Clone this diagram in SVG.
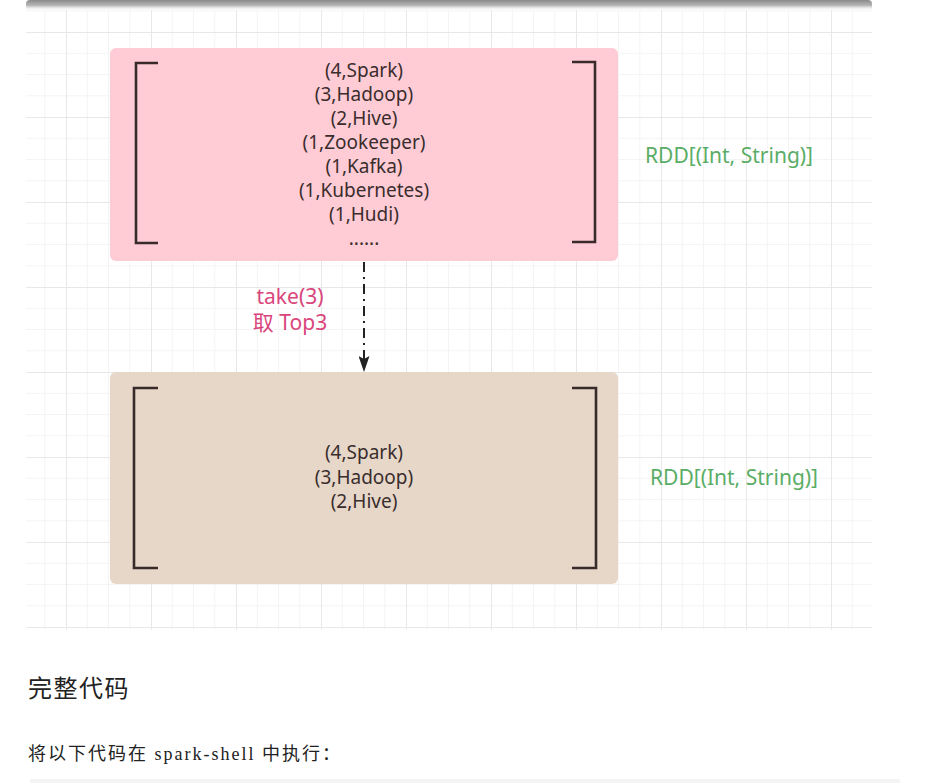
<svg xmlns="http://www.w3.org/2000/svg" width="930" height="783" viewBox="0 0 930 783">
<style>
.item{font-family:"Noto Sans","Noto Sans CJK SC",sans-serif;font-size:19px;fill:#3a2d2d;text-anchor:middle}
.rdd{font-family:"Noto Sans",sans-serif;font-size:21px;fill:#5aad66}
.lbl{font-family:"Noto Sans","Noto Sans CJK SC",sans-serif;font-size:21px;fill:#d9467c;text-anchor:middle}
.brk{fill:none;stroke:#3a2b2b;stroke-width:2.6}
.doc{font-family:"Liberation Serif","Noto Sans CJK SC",serif;fill:#222}
</style>
<defs>
<pattern id="grid" patternUnits="userSpaceOnUse" x="66" y="32" width="85" height="85">
<path d="M21.25 0V85M42.5 0V85M63.75 0V85M0 21.25H85M0 42.5H85M0 63.75H85" stroke="#f4f4f4" stroke-width="1" fill="none"/>
<path d="M0.5 0V85M0 0.5H85" stroke="#e8e8e8" stroke-width="1" fill="none"/>
</pattern>
<linearGradient id="shadow" x1="0" y1="0" x2="0" y2="1">
<stop offset="0" stop-color="#8a8a8a"/>
<stop offset="0.5" stop-color="#b8b8b8"/>
<stop offset="1" stop-color="#ffffff" stop-opacity="0"/>
</linearGradient>
<marker id="arrow" markerWidth="16" markerHeight="11" refX="15" refY="5.5" orient="auto" markerUnits="userSpaceOnUse" viewBox="0 0 16 11">
<path d="M0 0L16 5.5L0 11L3 5.5Z" fill="#222"/>
</marker>
</defs>
<rect width="930" height="783" fill="#ffffff"/>
<rect x="26" y="10" width="846" height="620" fill="url(#grid)"/>
<rect x="26" y="0" width="846" height="11" rx="4" fill="url(#shadow)"/>

<g id="source-rdd">
<rect x="110" y="48" width="508" height="213" rx="6" fill="#ffccd5"/>
<path class="brk" d="M158 63H136V243H158"/>
<path class="brk" d="M572 62H595V242H572"/>
<text class="item" x="364" y="77">(4,Spark)</text>
<text class="item" x="364" y="101">(3,Hadoop)</text>
<text class="item" x="364" y="125">(2,Hive)</text>
<text class="item" x="364" y="149">(1,Zookeeper)</text>
<text class="item" x="364" y="173">(1,Kafka)</text>
<text class="item" x="364" y="197">(1,Kubernetes)</text>
<text class="item" x="364" y="221">(1,Hudi)</text>
<text class="item" x="364" y="245">......</text>
</g>
<g id="source-type"><text class="rdd" x="645" y="163">RDD[(Int, String)]</text></g>

<g id="result-rdd">
<rect x="110" y="372" width="508" height="212" rx="6" fill="#e6d7c9"/>
<path class="brk" d="M158 388H134V568H158"/>
<path class="brk" d="M572 388H596V568H572"/>
<text class="item" x="364" y="459">(4,Spark)</text>
<text class="item" x="364" y="484">(3,Hadoop)</text>
<text class="item" x="364" y="508">(2,Hive)</text>
</g>
<g id="result-type"><text class="rdd" x="650" y="485">RDD[(Int, String)]</text></g>

<g id="connectors">
<line x1="364" y1="262" x2="364" y2="371" stroke="#222" stroke-width="2" stroke-dasharray="10,5,2,5" marker-end="url(#arrow)"/>
<text class="lbl" x="290" y="304">take(3)</text>
<text class="lbl" x="290" y="330">取 Top3</text>
</g>

<text class="doc" x="28" y="697" font-size="24" letter-spacing="1.5">完整代码</text>
<text class="doc" x="28" y="760" font-size="18" letter-spacing="2" fill="#333">将以下代码在 spark-shell 中执行：</text>
<rect x="30" y="779" width="870" height="4" fill="#f4f4f4"/>
</svg>
